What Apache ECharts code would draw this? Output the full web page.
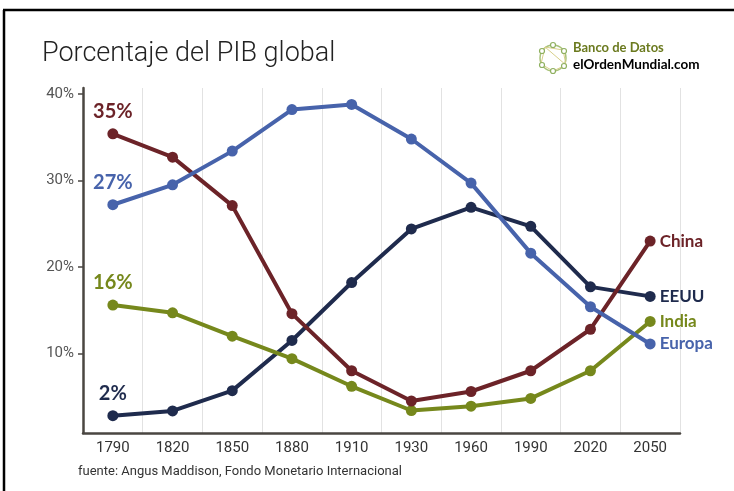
<!DOCTYPE html>
<html>
<head>
<meta charset="utf-8">
<script src="https://cdn.jsdelivr.net/npm/echarts@6/dist/echarts.min.js"></script>
<style>
  html, body { margin: 0; padding: 0; background: #fff; }
  #chart { width: 734px; height: 491px; }
</style>
</head>
<body>
<div id="chart"></div>
<script>
var years = ['1790', '1820', '1850', '1880', '1910', '1930', '1960', '1990', '2020', '2050']
var china = [35.4, 32.7, 27.1, 14.6, 8.0, 4.5, 5.6, 8.0, 12.8, 23.0]
var europa = [27.2, 29.5, 33.4, 38.2, 38.8, 34.8, 29.7, 21.6, 15.4, 11.1]
var india = [15.6, 14.7, 12.0, 9.4, 6.2, 3.4, 3.9, 4.8, 8.0, 13.7]
var eeuu = [2.8, 3.35, 5.7, 11.5, 18.2, 24.4, 26.9, 24.7, 17.7, 16.6]
var startLabels = ['35%', '27%', '16%', '2%']
var yTicks = [10, 20, 30, 40]

var narrow = 'Roboto, "Liberation Sans", Arial, sans-serif'
var bold = 'Lato, "Open Sans", sans-serif'

// primer punto con su %, último con el nombre
function buildData(vals, first, last, color) {
  return vals.map(function (v, i) {
    if (i === 0) {
      return { value: v, label: { show: true, position: 'top', distance: 7, formatter: first,
        fontSize: 20, fontWeight: 'bold', fontFamily: bold, color: color } }
    }
    if (i === vals.length - 1) {
      return { value: v, label: { show: true, position: 'right', distance: 4, formatter: last,
        fontSize: 17, fontWeight: 'bold', fontFamily: bold, color: color } }
    }
    return v
  })
}

function line(name, vals, first, color) {
  return {
    name: name,
    type: 'line',
    data: buildData(vals, first, name, color),
    symbol: 'circle',
    symbolSize: 11,
    lineStyle: { width: 4, color: color },
    itemStyle: { color: color },
    z: 3
  }
}

var myChart = echarts.init(document.getElementById('chart'))

var option = {
  animation: false,
  title: {
    text: 'Porcentaje del PIB global',
    left: 37,
    top: 36,
    textStyle: { fontFamily: narrow, fontSize: 27, fontWeight: 300, color: '#222' }
  },
  grid: { left: 83, right: 54, top: 88, bottom: 58 },
  xAxis: {
    type: 'category',
    data: years,
    boundaryGap: true,
    axisTick: { show: false },
    axisLine: { lineStyle: { color: '#4a4641', width: 2.5 } },
    splitLine: { show: true, lineStyle: { color: '#e2e2e2', width: 1 } },
    axisLabel: { fontFamily: narrow, fontSize: 15, color: '#333', margin: 8 }
  },
  yAxis: {
    type: 'value',
    min: 0.8,
    max: 40.7,
    splitLine: { show: false },
    axisLine: { show: true, lineStyle: { color: '#4a4641', width: 2.5 } },
    axisTick: { show: true, length: 5, customValues: yTicks, lineStyle: { color: '#4a4641', width: 1.5 } },
    axisLabel: { customValues: yTicks, formatter: '{value}%', fontFamily: narrow, fontSize: 15, color: '#555', margin: 9 }
  },
  series: [
    line('EEUU', eeuu, startLabels[3], '#1f2b4d'),
    line('India', india, startLabels[2], '#76881c'),
    line('China', china, startLabels[0], '#6c2328'),
    line('Europa', europa, startLabels[1], '#4763ab')
  ],
  graphic: [
    // marco
    { type: 'line', shape: { x1: 3, y1: 10, x2: 734, y2: 10 }, style: { stroke: '#000', lineWidth: 2.5 } },
    { type: 'line', shape: { x1: 4, y1: 10, x2: 4, y2: 491 }, style: { stroke: '#000', lineWidth: 2.5 } },
    // logo
    { type: 'circle', shape: { cx: 553, cy: 58, r: 13 }, style: { fill: 'none', stroke: '#a9c27a', lineWidth: 1.5 } },
    { type: 'polyline', shape: { points: [[545, 47], [563, 50], [566, 65], [553, 71], [541, 64], [545, 47], [566, 65]] },
      style: { fill: 'none', stroke: '#d8cf8a', lineWidth: 1 } },
    { type: 'circle', shape: { cx: 553, cy: 45, r: 2.5 }, style: { fill: '#fff', stroke: '#8fb060', lineWidth: 1.2 } },
    { type: 'circle', shape: { cx: 564, cy: 51, r: 2.5 }, style: { fill: '#fff', stroke: '#8fb060', lineWidth: 1.2 } },
    { type: 'circle', shape: { cx: 564, cy: 66, r: 2.5 }, style: { fill: '#fff', stroke: '#8fb060', lineWidth: 1.2 } },
    { type: 'circle', shape: { cx: 553, cy: 71, r: 2.5 }, style: { fill: '#fff', stroke: '#8fb060', lineWidth: 1.2 } },
    { type: 'circle', shape: { cx: 542, cy: 65, r: 2.5 }, style: { fill: '#fff', stroke: '#8fb060', lineWidth: 1.2 } },
    { type: 'circle', shape: { cx: 542, cy: 51, r: 2.5 }, style: { fill: '#fff', stroke: '#8fb060', lineWidth: 1.2 } },
    { type: 'text', left: 573, top: 41, style: { text: 'Banco de Datos', fontFamily: bold, fontSize: 13, fontWeight: 'bold', fill: '#6b7a1f' } },
    { type: 'text', left: 573, top: 58, style: {
        text: '{a|el}{b|Orden}{a|Mundial.com}',
        rich: {
          a: { fontFamily: bold, fontSize: 13.5, fontWeight: 'bold', color: '#4a4a4a' },
          b: { fontFamily: bold, fontSize: 13.5, fontWeight: 'bold', color: '#b8601a' }
        }
      } },
    // fuente
    { type: 'text', left: 78, top: 465, style: { text: 'fuente: Angus Maddison, Fondo Monetario Internacional',
        fontFamily: narrow, fontSize: 13, fill: '#333' } }
  ]
}

myChart.setOption(option)
</script>
</body>
</html>
